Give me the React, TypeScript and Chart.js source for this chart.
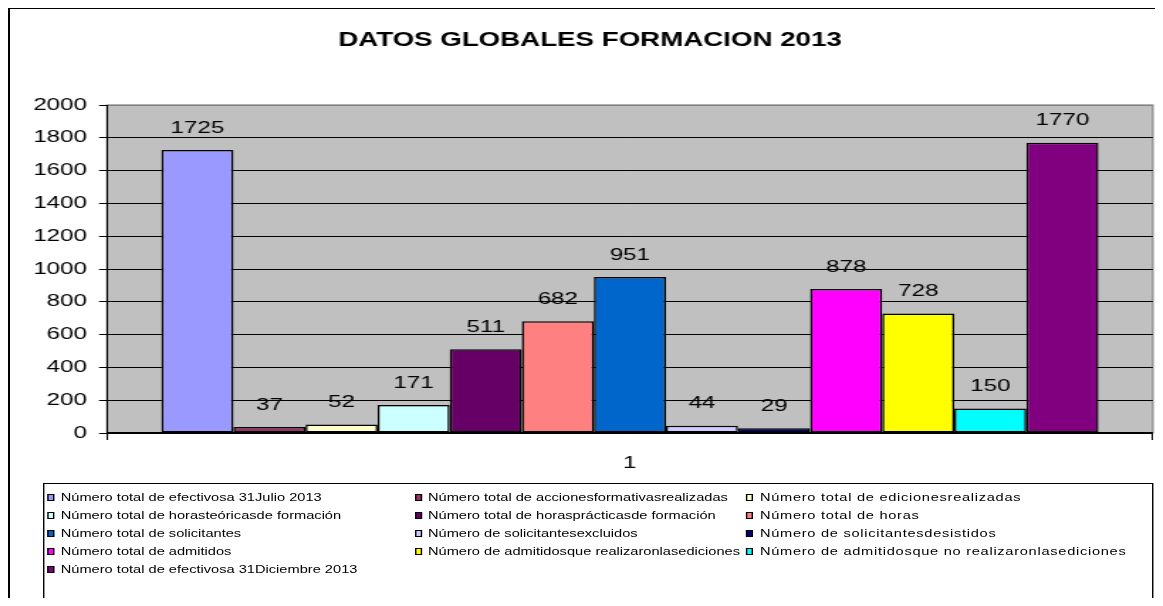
import React, { useEffect, useRef } from 'react';
import { Chart, registerables } from 'chart.js';

Chart.register(...registerables);

// ---- data ----
const chartTitle = 'DATOS GLOBALES FORMACION 2013';
const categories = ['1'];
const seriesLabels = [
  'Número total de efectivosa 31Julio 2013',
  'Número total de accionesformativasrealizadas',
  'Número total de edicionesrealizadas',
  'Número total de horasteóricasde formación',
  'Número total de horasprácticasde formación',
  'Número total de horas',
  'Número total de solicitantes',
  'Número de solicitantesexcluidos',
  'Número de solicitantesdesistidos',
  'Número total de admitidos',
  'Número de admitidosque realizaronlasediciones',
  'Número de admitidosque no realizaronlasediciones',
  'Número total de efectivosa 31Diciembre 2013',
];
const seriesValues = [1725, 37, 52, 171, 511, 682, 951, 44, 29, 878, 728, 150, 1770];
const seriesColors = [
  '#9999FF', '#993366', '#FFFFCC', '#CCFFFF', '#660066', '#FF8080', '#0066CC',
  '#CCCCFF', '#000080', '#FF00FF', '#FFFF00', '#00FFFF', '#800080',
];
const yMin = 0;
const yMax = 2000;
const yStep = 200;

// ---- layout / style ----
const FONT = '"Liberation Sans", Arial, Helvetica, sans-serif';
const STRETCH = 1.42;
const CANVAS_W = 817;
const CANVAS_H = 480;
const SIDE_PAD = 12.1;

const plotBg = {
  id: 'plotBg',
  beforeDraw(chart: any) {
    const { ctx, chartArea } = chart;
    const { left, top, right, bottom } = chartArea;
    ctx.save();
    ctx.fillStyle = '#C0C0C0';
    ctx.fillRect(left, top, right - left, bottom - top);
    ctx.strokeStyle = '#808080';
    ctx.lineWidth = 1.2;
    ctx.strokeRect(left, top, right - left, bottom - top);
    ctx.restore();
  },
};

const valueLabels = {
  id: 'valueLabels',
  afterDatasetsDraw(chart: any) {
    const ctx = chart.ctx;
    ctx.save();
    ctx.font = `17px ${FONT}`;
    ctx.fillStyle = '#000';
    ctx.textAlign = 'center';
    ctx.textBaseline = 'middle';
    chart.data.datasets.forEach((ds: any, i: number) => {
      const meta = chart.getDatasetMeta(i);
      meta.data.forEach((el: any, j: number) => {
        ctx.fillText(String(ds.data[j]), el.x, el.y - 22);
      });
    });
    ctx.restore();
  },
};

export default function App() {
  const canvasRef = useRef<HTMLCanvasElement | null>(null);

  useEffect(() => {
    document.documentElement.style.overflow = 'hidden';
    document.body.style.overflow = 'hidden';
    const canvas = canvasRef.current;
    if (!canvas) return;
    const chart = new Chart(canvas, {
      type: 'bar',
      data: {
        labels: categories,
        datasets: seriesLabels.map((label, i) => ({
          label,
          data: [seriesValues[i]],
          backgroundColor: seriesColors[i],
          borderColor: '#000',
          borderWidth: 1.5,
          borderSkipped: false,
          barPercentage: 1,
          categoryPercentage: 0.896,
        })),
      },
      options: {
        animation: false,
        responsive: false,
        devicePixelRatio: 1,
        layout: { padding: { left: SIDE_PAD, right: SIDE_PAD, top: 0, bottom: 0 } },
        plugins: {
          legend: { display: false },
          tooltip: { enabled: false },
          title: {
            display: true,
            text: chartTitle,
            color: '#000',
            font: { family: FONT, size: 19.5, weight: 'bold', lineHeight: 1.2 },
            padding: { top: 20.3, bottom: 52.3 },
          },
        },
        scales: {
          x: {
            grid: {
              display: true,
              drawOnChartArea: false,
              drawTicks: true,
              tickLength: 7,
              color: '#000',
              lineWidth: 1,
            },
            border: { display: true, color: '#000', width: 1.6 },
            ticks: { color: '#000', font: { family: FONT, size: 17 }, padding: 12.8 },
            afterFit(scale: any) {
              scale.height = 56;
            },
          },
          y: {
            min: yMin,
            max: yMax,
            grid: {
              color: (c: any) => (c.tick && c.tick.value === yMax ? '#808080' : '#000'),
              lineWidth: 1,
              drawTicks: true,
              tickLength: 5.6,
              tickColor: '#000',
            },
            border: { display: true, color: '#000', width: 1 },
            ticks: {
              stepSize: yStep,
              color: '#000',
              font: { family: FONT, size: 17 },
              padding: 8.5,
              callback: (v: any) => String(v),
            },
            afterFit(scale: any) {
              scale.width = 68.3 - SIDE_PAD;
            },
          },
        },
      },
      plugins: [plotBg, valueLabels],
    } as any);
    return () => chart.destroy();
  }, []);

  return (
    <div
      style={{
        position: 'relative',
        width: 1153,
        height: 597,
        marginBottom: -8,
        borderTop: '1px solid #000',
        borderLeft: '2px solid #000',
        overflow: 'hidden',
        background: '#fff',
      }}
    >
      <canvas
        ref={canvasRef}
        width={CANVAS_W}
        height={CANVAS_H}
        style={{
          position: 'absolute',
          left: 0,
          top: 0,
          width: `${CANVAS_W * STRETCH}px`,
          height: `${CANVAS_H}px`,
          display: 'block',
        }}
      />
      <div
        style={{
          position: 'absolute',
          left: 33,
          top: 474,
          width: 781.7,
          height: 200,
          border: '1px solid #000',
          boxSizing: 'border-box',
          transform: `scaleX(${STRETCH})`,
          transformOrigin: '0 0',
          paddingTop: 4,
          paddingLeft: 2,
          display: 'grid',
          gridTemplateColumns: '258.6px 233.8px 1fr',
          gridAutoRows: '18px',
          fontFamily: FONT,
          fontSize: 10.3,
          color: '#000',
        }}
      >
        {seriesLabels.map((label, i) => (
          <div key={i} style={{ display: 'flex', alignItems: 'center', whiteSpace: 'nowrap' }}>
            <span
              style={{
                display: 'inline-block',
                width: 3,
                height: 5,
                border: '1px solid #000',
                background: seriesColors[i],
                marginRight: 4.5,
                flex: 'none',
              }}
            />
            <span style={{ letterSpacing: i % 3 === 2 ? '0.5px' : '0px' }}>{label}</span>
          </div>
        ))}
      </div>
    </div>
  );
}
